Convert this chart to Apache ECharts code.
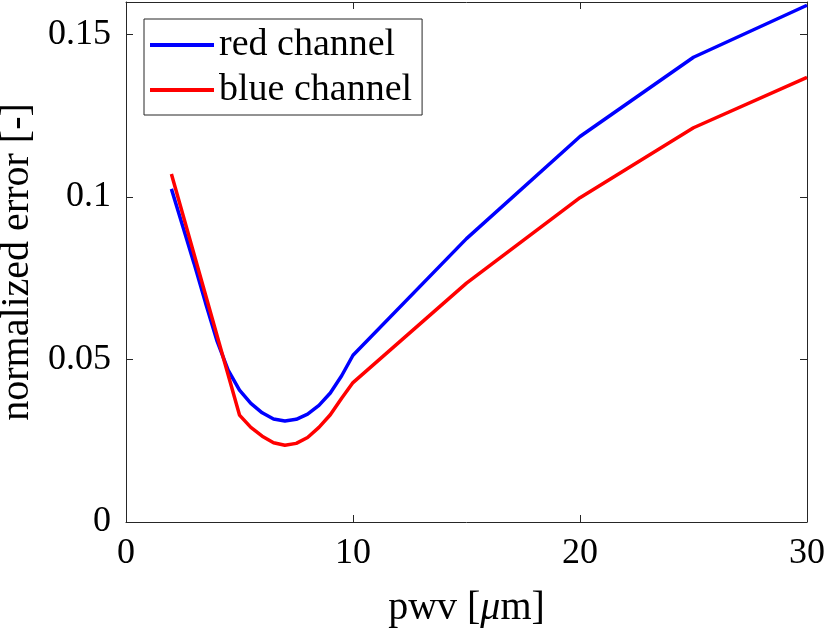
<!DOCTYPE html>
<html lang="en">

<head>
    <meta charset="UTF-8">
    <title>normalized error vs pwv</title>
    <script src="https://cdn.jsdelivr.net/npm/echarts@6/dist/echarts.min.js"></script>
    <style>
        html, body { margin: 0; padding: 0; background: #fff; }
    </style>
</head>

<body>
<div id="main" style="width: 830px; height: 629px;"></div>
<script>
    // pwv [um] sample positions
    const pwvRed = [2, 2.5, 3, 3.5, 4, 4.5, 5, 5.5, 6, 6.5, 7, 7.5, 8, 8.5, 9, 9.5, 10, 15, 20, 25, 30]
    const redChannel = [0.1025, 0.0910, 0.0795, 0.0675, 0.0559, 0.0467, 0.0406, 0.0365, 0.0336, 0.0317, 0.0311, 0.0316, 0.0332, 0.0359, 0.0397, 0.0450, 0.0513, 0.0872, 0.1186, 0.1430, 0.1590]
    const pwvBlue = [2, 5, 5.5, 6, 6.5, 7, 7.5, 8, 8.5, 9, 9.5, 10, 15, 20, 25, 30]
    const blueChannel = [0.1071, 0.0329, 0.0291, 0.0264, 0.0244, 0.0236, 0.0242, 0.0260, 0.0291, 0.0330, 0.0381, 0.0429, 0.0735, 0.0998, 0.1213, 0.1368]
    const xTicks = [0, 10, 20, 30]
    const yTicks = [0, 0.05, 0.1, 0.15]

    const font = "'Liberation Serif', 'DejaVu Serif', 'Times New Roman', serif"
    const axisColor = '#262626'

    const pairs = (xs, ys) => xs.map((x, i) => [x, ys[i]])

    const boxAxis = {
        axisLine: { show: true, onZero: false, lineStyle: { color: axisColor, width: 1 } },
        axisTick: { show: true, inside: true, length: 7, lineStyle: { color: axisColor } },
        splitLine: { show: false }
    }

    const option = {
        animation: false,
        backgroundColor: '#fff',
        grid: { left: 126, right: 23, top: 2, bottom: 107, containLabel: false, outerBoundsMode: 'none' },
        legend: {
            orient: 'vertical',
            left: 144,
            top: 19,
            width: 278,
            padding: [7, 10, 6, 6],
            itemGap: 7,
            itemWidth: 64,
            itemHeight: 4,
            icon: 'rect',
            borderColor: axisColor,
            borderWidth: 1,
            backgroundColor: '#fff',
            textStyle: { fontFamily: font, fontSize: 38, color: '#000', lineHeight: 38 },
            data: ['red channel', 'blue channel']
        },
        xAxis: [
            Object.assign({
                type: 'value',
                min: xTicks[0],
                max: xTicks[xTicks.length - 1],
                interval: 10,
                position: 'bottom',
                name: 'pwv [{it|μ}m]',
                nameLocation: 'middle',
                nameGap: 66,
                nameTextStyle: {
                    fontFamily: font, fontSize: 40, color: '#000',
                    rich: { it: { fontFamily: font, fontSize: 40, fontStyle: 'italic', color: '#000' } }
                },
                axisLabel: { fontFamily: font, fontSize: 36, color: '#000', margin: 14 }
            }, boxAxis),
            Object.assign({
                type: 'value',
                min: xTicks[0],
                max: xTicks[xTicks.length - 1],
                interval: 10,
                position: 'top',
                axisLabel: { show: false }
            }, boxAxis)
        ],
        yAxis: [
            Object.assign({
                type: 'value',
                min: 0,
                max: 0.16,
                interval: 0.05,
                position: 'left',
                name: 'normalized error [-]',
                nameLocation: 'middle',
                nameGap: 86,
                nameTextStyle: { fontFamily: font, fontSize: 40, color: '#000' },
                axisLabel: {
                    fontFamily: font, fontSize: 36, color: '#000', margin: 15,
                    showMaxLabel: false,
                    formatter: v => yTicks.some(t => Math.abs(t - v) < 1e-9) ? String(parseFloat(v.toFixed(2))) : ''
                }
            }, boxAxis),
            Object.assign({
                type: 'value',
                min: 0,
                max: 0.16,
                interval: 0.05,
                position: 'right',
                axisLabel: { show: false }
            }, boxAxis)
        ],
        series: [
            {
                name: 'red channel',
                type: 'line',
                data: pairs(pwvRed, redChannel),
                showSymbol: false,
                color: '#0000ff',
                lineStyle: { color: '#0000ff', width: 3.5 }
            },
            {
                name: 'blue channel',
                type: 'line',
                data: pairs(pwvBlue, blueChannel),
                showSymbol: false,
                color: '#ff0000',
                lineStyle: { color: '#ff0000', width: 3.5 }
            }
        ]
    }

    const chart = echarts.init(document.getElementById('main'))
    chart.setOption(option)
</script>
</body>

</html>
